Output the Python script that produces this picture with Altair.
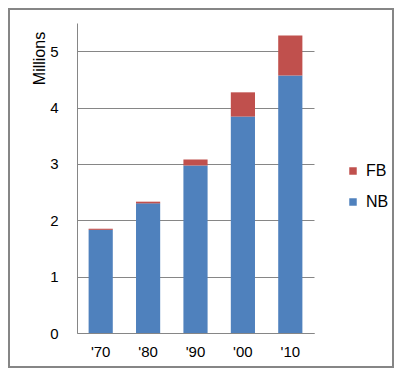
import altair as alt
import pandas as pd

decades = ["'70", "'80", "'90", "'00", "'10"]
nb = [1.83, 2.30, 2.97, 3.84, 4.57]
fb = [0.02, 0.03, 0.11, 0.43, 0.71]
series = ["FB", "NB"]
colors = ["#C0504D", "#4F81BD"]
y_ticks = [0, 1, 2, 3, 4, 5]

rows = []
for d, n, f in zip(decades, nb, fb):
    rows.append({"decade": d, "series": "NB", "value": n, "ord": 0})
    rows.append({"decade": d, "series": "FB", "value": f, "ord": 1})
df = pd.DataFrame(rows)

W, H = 237, 310
PL, PT, PR, PB = 69, 15, 80, 35

bars = alt.Chart(df).mark_bar().encode(
    x=alt.X("decade:N", sort=decades,
            scale=alt.Scale(paddingInner=0.49, paddingOuter=0.245),
            axis=alt.Axis(title=None, labelAngle=0, labelFontSize=15, labelPadding=11,
                          ticks=False, domainColor="#868686", labelColor="#000000",
                          labelFont="Liberation Sans")),
    y=alt.Y("value:Q", stack="zero",
            scale=alt.Scale(domain=[0, 5.5], nice=False),
            axis=alt.Axis(title="Millions", values=y_ticks, format="d",
                          titleAngle=-90, titleX=-38, titleY=35, titleAlign="center",
                          titleBaseline="middle", titleFontSize=16, titleFontWeight="normal",
                          titleFont="Liberation Sans", titleColor="#000000",
                          labelFontSize=15, labelPadding=19, ticks=False,
                          labelFont="Liberation Sans", labelColor="#000000",
                          grid=True, gridColor="#868686", gridWidth=1,
                          domainColor="#868686")),
    color=alt.Color("series:N", scale=alt.Scale(domain=series, range=colors),
                    legend=alt.Legend(title=None, orient="none", legendX=268, legendY=140,
                                      symbolType="square", symbolSize=56,
                                      symbolStrokeWidth=0,
                                      labelFontSize=16, labelFont="Liberation Sans",
                                      labelColor="#000000", labelOffset=5, rowPadding=15)),
    order=alt.Order("ord:Q"),
)

border = alt.Chart(alt.Data(values=[{"a": 1}])).mark_rect(
    fill=None, stroke="#868686", strokeWidth=2
).encode(
    x=alt.value(-PL + 1), x2=alt.value(W + PR - 1),
    y=alt.value(-PT + 1), y2=alt.value(H + PB - 1),
)

chart = alt.layer(bars, border).properties(
    width=W, height=H,
    autosize=alt.AutoSizeParams(type="none"),
    padding={"left": PL, "top": PT, "right": PR, "bottom": PB},
).configure_view(strokeWidth=0)

chart.save("out.html", embed_options={"renderer": "svg", "actions": False})
